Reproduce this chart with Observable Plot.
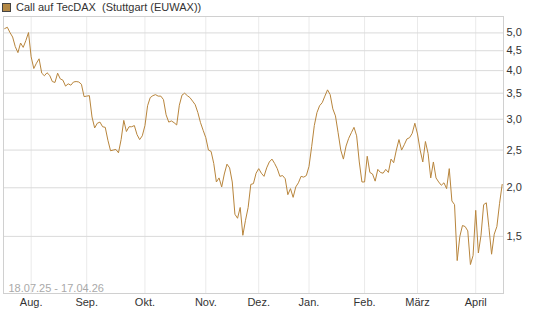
<!DOCTYPE html>
<html>
<head>
<meta charset="utf-8">
<script src="https://cdn.jsdelivr.net/npm/d3@7"></script>
<script src="https://cdn.jsdelivr.net/npm/@observablehq/plot@0.6"></script>
<style>
  html, body { margin: 0; padding: 0; background: #fff; }
  #wrap { position: relative; width: 545px; height: 327px; font-family: "Liberation Sans", Arial, sans-serif; }
  #legend { position: absolute; left: 2px; top: 0px; height: 14px; font-size: 11px; color: #333; white-space: pre; display: flex; align-items: center; }
  #legend .sw { display: inline-block; width: 7px; height: 7px; background: #b38845; border: 1px solid #444; margin-right: 5px; }
</style>
</head>
<body>
<div id="wrap">
  <div id="chart"></div>
  <div id="legend"><span class="sw"></span><span>Call auf TecDAX  (Stuttgart (EUWAX))</span></div>
</div>
<script>
const seriesName = "Call auf TecDAX  (Stuttgart (EUWAX))";
const rangeLabel = "18.07.25 - 17.04.26";
const startDate = [2025, 6, 18];
const holidays = ["2025-12-24", "2025-12-25", "2025-12-26", "2025-12-31", "2026-01-01", "2026-04-03", "2026-04-06"];
const monthNames = ["Jan.", "Feb.", "März", "April", "Mai", "Juni", "Juli", "Aug.", "Sep.", "Okt.", "Nov.", "Dez."];
const yTicks = [1.5, 2.0, 2.5, 3.0, 3.5, 4.0, 4.5, 5.0];
const prices = [
  5.13, 5.17, 5.01, 4.88, 4.61, 4.45, 4.71, 4.59, 4.78, 5.01,
  4.34, 4.05, 4.18, 4.29, 3.94, 3.88, 3.95, 3.89, 3.75, 3.73,
  3.94, 3.81, 3.78, 3.65, 3.70, 3.67, 3.74, 3.75, 3.74, 3.69,
  3.43, 3.44, 3.45, 3.04, 2.85, 2.93, 2.95, 2.87, 2.86, 2.65,
  2.49, 2.50, 2.51, 2.46, 2.66, 2.98, 2.79, 2.87, 2.87, 2.89,
  2.74, 2.66, 2.72, 2.89, 3.25, 3.41, 3.45, 3.47, 3.44, 3.44,
  3.37, 3.08, 2.95, 2.97, 2.94, 2.90, 3.26, 3.46, 3.50, 3.45,
  3.41, 3.34, 3.27, 3.12, 2.94, 2.81, 2.69, 2.50, 2.48, 2.31,
  2.07, 2.12, 2.01, 2.17, 2.30, 2.25, 2.07, 1.71, 1.67, 1.78,
  1.51, 1.65, 1.78, 2.04, 2.05, 2.18, 2.24, 2.18, 2.14, 2.25,
  2.33, 2.37, 2.31, 2.24, 2.14, 2.15, 2.11, 1.92, 1.99, 1.89,
  2.01, 2.06, 2.14, 2.13, 2.15, 2.27, 2.55, 2.89, 3.12, 3.25,
  3.31, 3.44, 3.57, 3.47, 3.19, 3.06, 2.77, 2.50, 2.37, 2.56,
  2.68, 2.77, 2.86, 2.72, 2.33, 2.07, 2.07, 2.41, 2.19, 2.17,
  2.08, 2.23, 2.19, 2.18, 2.23, 2.19, 2.37, 2.32, 2.50, 2.66,
  2.50, 2.58, 2.67, 2.69, 2.76, 2.93, 2.75, 2.50, 2.33, 2.63,
  2.45, 2.12, 2.33, 2.12, 2.07, 2.03, 2.06, 1.99, 2.24, 1.85,
  1.81, 1.30, 1.50, 1.60, 1.59, 1.55, 1.27, 1.34, 1.75, 1.36,
  1.51, 1.81, 1.83, 1.58, 1.35, 1.52, 1.59, 1.82, 2.04
];

// trading-day calendar (weekdays without exchange holidays)
const iso = d => d.toISOString().slice(0, 10);
const dates = [];
let d = new Date(Date.UTC(...startDate));
while (dates.length < prices.length) {
  const wd = d.getUTCDay();
  if (wd !== 0 && wd !== 6 && !holidays.includes(iso(d))) dates.push(new Date(d));
  d = new Date(d.getTime() + 86400000);
}
const data = prices.map((v, i) => ({i, date: dates[i], value: v}));
const monthStarts = data.filter((r, k) => k > 0 && r.date.getUTCMonth() !== data[k - 1].date.getUTCMonth());
const monthIdx = monthStarts.map(r => r.i);
const monthLabel = new Map(monthStarts.map(r => [r.i, monthNames[r.date.getUTCMonth()]]));

const chart = Plot.plot({
  width: 545,
  height: 327,
  marginLeft: 3,
  marginRight: 42,
  marginTop: 16,
  marginBottom: 34,
  style: {fontFamily: "'Liberation Sans', Arial, sans-serif", fontSize: "11px", color: "#333", background: "#fff"},
  x: {type: "linear", domain: [-0.45, prices.length - 0.5]},
  y: {type: "log", domain: [1.07, 5.51]},
  marks: [
    Plot.gridX(monthIdx, {stroke: "#eaeaea", strokeOpacity: 1}),
    Plot.gridY(yTicks, {stroke: "#dadada", strokeOpacity: 1}),
    Plot.frame({stroke: "#d0d0d0"}),
    Plot.axisY(yTicks, {anchor: "right", tickSize: 0, tickPadding: 3, label: null,
      tickFormat: v => v.toFixed(1).replace(".", ",")}),
    Plot.axisX(monthIdx, {anchor: "bottom", tickSize: 0, tickPadding: 5, label: null,
      tickFormat: i => monthLabel.get(i)}),
    Plot.text([rangeLabel], {frameAnchor: "bottom-left", text: d => d, dx: 5, dy: -2,
      lineAnchor: "bottom", textAnchor: "start", fill: "#a9a9a9", fontSize: 11}),
    Plot.line(data, {x: "i", y: "value", stroke: "#b8853c", strokeWidth: 1})
  ]
});
document.getElementById("chart").appendChild(chart);
</script>
</body>
</html>
